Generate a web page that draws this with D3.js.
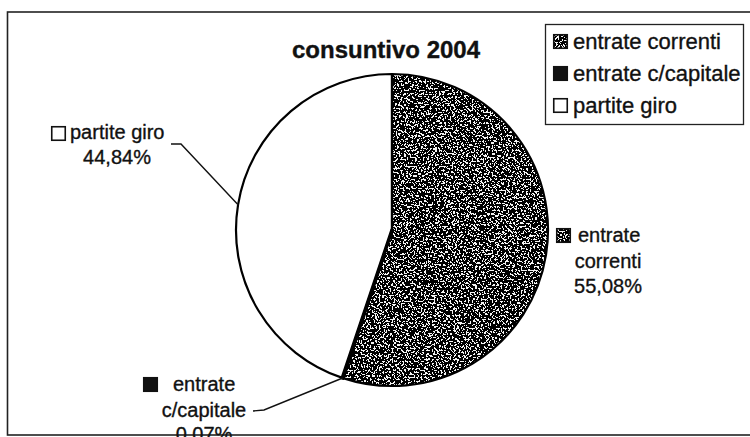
<!DOCTYPE html>
<html>
<head>
<meta charset="utf-8">
<script src="https://cdn.jsdelivr.net/npm/d3@7"></script>
<style>
  html, body { margin: 0; padding: 0; background: #fff; }
  svg { display: block; }
  text { font-family: "Liberation Sans", Arial, sans-serif; fill: #111; stroke: #111; stroke-width: 0.35px; }
</style>
</head>
<body>
<svg id="chart" width="750" height="437"></svg>
<script>
// Entrate — consuntivo 2004 (quote percentuali)
const categories = ["entrate correnti", "entrate c/capitale", "partite giro"];
const values = [55.08, 0.07, 44.84];
const title = "consuntivo 2004";

const fmt = v => d3.format(".2f")(v).replace(".", ",") + "%";

const svg = d3.select("#chart");
const defs = svg.append("defs");

// grainy black/white stipple used for the "entrate correnti" fill
const grain = defs.append("filter").attr("id", "grain")
  .attr("x", 0).attr("y", 0).attr("width", 1).attr("height", 1);
grain.append("feTurbulence").attr("type", "fractalNoise")
  .attr("baseFrequency", 0.55).attr("numOctaves", 2).attr("seed", 7).attr("result", "noise");
grain.append("feColorMatrix").attr("in", "noise").attr("type", "matrix")
  .attr("values", "0 0 0 0 0  0 0 0 0 0  0 0 0 0 0  1.6 0 0 0 -0.2").attr("result", "dots");
const ct = grain.append("feComponentTransfer").attr("in", "dots").attr("result", "hard");
ct.append("feFuncA").attr("type", "discrete").attr("tableValues", "0 1");
grain.append("feComposite").attr("in", "hard").attr("in2", "SourceAlpha").attr("operator", "in").attr("result", "speck");
grain.append("feFlood").attr("flood-color", "#f4f4f4").attr("result", "white");
grain.append("feComposite").attr("in", "white").attr("in2", "SourceAlpha").attr("operator", "in").attr("result", "base");
const merge = grain.append("feMerge");
merge.append("feMergeNode").attr("in", "base");
merge.append("feMergeNode").attr("in", "speck");

const fills = ["#6a6a6a", "#111111", "#ffffff"];
const useGrain = [true, false, false];

// chart frame
svg.append("rect")
  .attr("x", 7.5).attr("y", 12).attr("width", 760).attr("height", 423)
  .attr("fill", "none").attr("stroke", "#222").attr("stroke-width", 1.6);

// title
svg.append("text")
  .attr("x", 386).attr("y", 58)
  .attr("text-anchor", "middle")
  .style("font-weight", "bold").style("font-size", "24px")
  .text(title);

// pie
const cx = 392, cy = 230, r = 156;
const pie = d3.pie().sort(null).value(d => d)(values);
const arc = d3.arc().innerRadius(0).outerRadius(r);
const g = svg.append("g").attr("transform", `translate(${cx},${cy})`);

g.selectAll("path.slice").data(pie).join("path")
  .attr("class", "slice")
  .attr("d", arc)
  .attr("fill", (d, i) => fills[i])
  .attr("filter", (d, i) => useGrain[i] ? "url(#grain)" : null);

// outlines on top of the textured slice
g.selectAll("path.edge").data(pie).join("path")
  .attr("class", "edge")
  .attr("d", arc)
  .attr("fill", "none")
  .attr("stroke", "#000")
  .attr("stroke-linejoin", "round")
  .attr("stroke-width", (d, i) => i === 1 ? 3.5 : 2.2);

// small legend key squares
function key(sel, x, y, size, i) {
  sel.append("rect")
    .attr("x", x).attr("y", y).attr("width", size).attr("height", size)
    .attr("fill", fills[i])
    .attr("filter", useGrain[i] ? "url(#grain)" : null);
  sel.append("rect")
    .attr("x", x + 0.75).attr("y", y + 0.75).attr("width", size - 1.5).attr("height", size - 1.5)
    .attr("fill", "none").attr("stroke", "#111").attr("stroke-width", 1.6);
}

// point on the rim at the middle of a slice
function rim(d) {
  const a = (d.startAngle + d.endAngle) / 2;
  return [cx + r * Math.sin(a), cy - r * Math.cos(a)];
}

// data labels
const labelLayer = svg.append("g").style("font-size", "20px");

// entrate correnti (right of the pie)
key(labelLayer, 556, 228, 15, 0);
labelLayer.append("text").attr("x", 578).attr("y", 242).text("entrate");
labelLayer.append("text").attr("x", 608).attr("y", 268).attr("text-anchor", "middle").text("correnti");
labelLayer.append("text").attr("x", 608).attr("y", 293).attr("text-anchor", "middle").text(fmt(values[0]));

// entrate c/capitale (bottom left, with leader)
key(labelLayer, 143, 377, 15, 1);
labelLayer.append("text").attr("x", 173).attr("y", 391).text("entrate");
labelLayer.append("text").attr("x", 204).attr("y", 417).attr("text-anchor", "middle").text("c/capitale");
labelLayer.append("text").attr("x", 204).attr("y", 441).attr("text-anchor", "middle").text(fmt(values[1]));
{
  const p = rim(pie[1]);
  svg.append("path")
    .attr("d", d3.line()([[253, 411], [264, 410], p]))
    .attr("fill", "none").attr("stroke", "#111").attr("stroke-width", 1.4);
}

// partite giro (upper left, with leader)
key(labelLayer, 51, 126, 15, 2);
labelLayer.append("text").attr("x", 70).attr("y", 139).text("partite giro");
labelLayer.append("text").attr("x", 117).attr("y", 164).attr("text-anchor", "middle").text(fmt(values[2]));
{
  const p = rim(pie[2]);
  svg.append("path")
    .attr("d", d3.line()([[171, 144], [181, 144], p]))
    .attr("fill", "none").attr("stroke", "#111").attr("stroke-width", 1.4);
}

// legend
const legend = svg.append("g").style("font-size", "22px");
legend.append("rect")
  .attr("x", 545.5).attr("y", 24.5).attr("width", 198).attr("height", 100)
  .attr("fill", "#fff").attr("stroke", "#222").attr("stroke-width", 1.3);
categories.forEach((c, i) => {
  const y = 49 + i * 32;
  key(legend, 553, y - 15, 15, i);
  legend.append("text").attr("x", 573).attr("y", y).text(c);
});
</script>
</body>
</html>
